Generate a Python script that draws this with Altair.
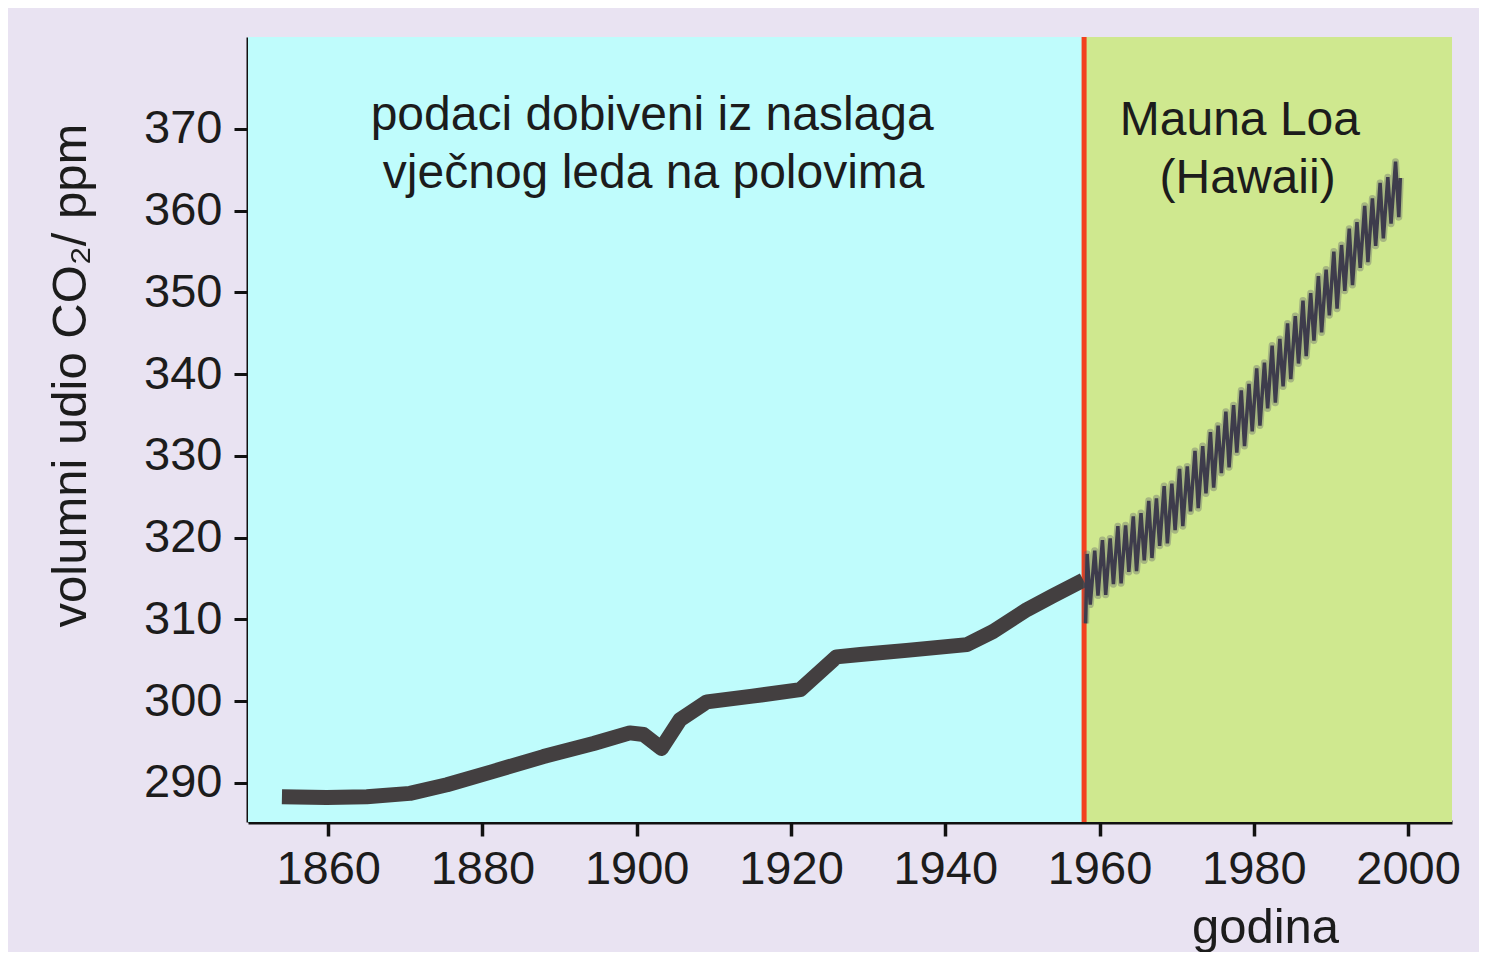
import altair as alt
import pandas as pd

# ---------------- data ----------------
# ice-core record (thick line)
ICE_YEARS = [1854.0, 1859.8, 1865.0, 1870.6, 1875.4, 1881.4, 1887.9, 1894.4, 1899.1,
             1900.9, 1903.2, 1905.6, 1909.1, 1915.0, 1921.2, 1925.9, 1929.0, 1935.0,
             1942.8, 1946.2, 1950.6, 1954.0, 1957.9]
ICE_PPM = [288.3, 288.2, 288.3, 288.7, 289.75, 291.4, 293.2, 294.8, 296.1,
           295.9, 294.2, 297.7, 299.9, 300.6, 301.4, 305.4, 305.7, 306.2,
           306.9, 308.5, 311.2, 312.9, 314.8]

# Mauna Loa record (seasonal saw-tooth)
ML_YEARS = [1958.20, 1958.40, 1958.80,
            1959.38, 1959.80, 1960.38, 1960.80, 1961.38, 1961.80, 1962.38, 1962.80,
            1963.38, 1963.80, 1964.38, 1964.80, 1965.38, 1965.80, 1966.38, 1966.80,
            1967.38, 1967.80, 1968.38, 1968.80, 1969.38, 1969.80, 1970.38, 1970.80,
            1971.38, 1971.80, 1972.38, 1972.80, 1973.38, 1973.80, 1974.38, 1974.80,
            1975.38, 1975.80, 1976.38, 1976.80, 1977.38, 1977.80, 1978.38, 1978.80,
            1979.38, 1979.80, 1980.38, 1980.80, 1981.38, 1981.80, 1982.38, 1982.80,
            1983.38, 1983.80, 1984.38, 1984.80, 1985.38, 1985.80, 1986.38, 1986.80,
            1987.38, 1987.80, 1988.38, 1988.80, 1989.38, 1989.80, 1990.38, 1990.80,
            1991.38, 1991.80, 1992.38, 1992.80, 1993.38, 1993.80, 1994.38, 1994.80,
            1995.38, 1995.80, 1996.38, 1996.80, 1997.38, 1997.80, 1998.38, 1998.80,
            1999.00]
ML_PPM = [309.5, 318.0, 311.8,
          318.4, 312.9, 319.7, 313.0, 319.9, 314.3, 321.4, 314.4,
          321.5, 315.8, 322.6, 315.9, 323.0, 317.2, 324.5, 317.5,
          324.8, 319.0, 326.3, 319.3, 326.6, 320.9, 328.4, 321.4,
          328.7, 323.2, 330.6, 323.6, 331.2, 325.4, 332.9, 326.1,
          333.7, 327.9, 335.4, 328.6, 336.2, 330.4, 338.0, 331.2,
          338.8, 333.0, 340.7, 333.7, 341.4, 335.8, 343.5, 336.5,
          344.3, 338.5, 346.2, 339.4, 347.1, 341.3, 349.0, 342.2,
          349.9, 344.1, 352.0, 345.1, 352.8, 347.2, 355.0, 348.0,
          355.8, 350.2, 357.8, 350.9, 358.6, 353.0, 360.6, 353.7,
          361.5, 355.7, 363.4, 356.6, 364.1, 358.4, 366.0, 359.2,
          364.0]

SPLIT_YEAR = 1958.0
X_DOMAIN = [1849.6, 2005.7]
Y_DOMAIN = [285.2, 381.25]
X_TICKS = [1860, 1880, 1900, 1920, 1940, 1960, 1980, 2000]
Y_TICKS = [290, 300, 310, 320, 330, 340, 350, 360, 370]

REGION_NAMES = ["ice", "mauna"]
REGION_START = [X_DOMAIN[0], SPLIT_YEAR]
REGION_END = [SPLIT_YEAR, X_DOMAIN[1]]
REGION_COLORS = ["#bffcfc", "#cfe88f"]

NOTE_TEXT = ["podaci dobiveni iz naslaga", "vječnog leda na polovima",
             "Mauna Loa", "(Hawaii)"]
NOTE_YEAR = [1902.0, 1902.2, 1978.2, 1979.2]
NOTE_PPM = [369.9, 362.8, 369.3, 362.2]

FONT = "Liberation Sans"

# ---------------- chart ----------------
xs = alt.Scale(domain=X_DOMAIN, nice=False, zero=False)
ys = alt.Scale(domain=Y_DOMAIN, nice=False, zero=False)

regions = pd.DataFrame({"name": REGION_NAMES, "start": REGION_START, "end": REGION_END})
ice = pd.DataFrame({"year": ICE_YEARS, "ppm": ICE_PPM})
ml = pd.DataFrame({"year": ML_YEARS, "ppm": ML_PPM})
split = pd.DataFrame({"year": [SPLIT_YEAR]})
notes = pd.DataFrame({"text": NOTE_TEXT, "year": NOTE_YEAR, "ppm": NOTE_PPM})

x_axis = alt.Axis(values=X_TICKS, format="d", title="godina", labelPadding=10,
                  titleX=1017, titleY=120, titleAlign="center",
                  titleBaseline="alphabetic", labelFlush=False,
                  domainWidth=4, tickWidth=3.5, tickSize=14,
                  domainColor="#111111", tickColor="#111111")
y_axis = alt.Axis(values=Y_TICKS, format="d", title="volumni udio CO₂/ ppm",
                  labelPadding=12, titleX=-163, titleY=375 - 37, titleAngle=270,
                  titleAlign="center", titleBaseline="alphabetic",
                  domainWidth=4, tickWidth=3, tickSize=14,
                  domainColor="#111111", tickColor="#111111")

bg = alt.Chart(regions).mark_rect().encode(
    x=alt.X("start:Q", scale=xs, axis=x_axis),
    x2="end:Q",
    color=alt.Color("name:N", scale=alt.Scale(domain=REGION_NAMES, range=REGION_COLORS),
                    legend=None),
)

rule = alt.Chart(split).mark_rule(color="#f2401e", strokeWidth=5).encode(
    x=alt.X("year:Q", scale=xs)
)

ice_line = alt.Chart(ice).mark_line(color="#433f40", strokeWidth=15,
                                    strokeJoin="round", strokeCap="butt").encode(
    x=alt.X("year:Q", scale=xs),
    y=alt.Y("ppm:Q", scale=ys, axis=y_axis),
)

ml_halo = alt.Chart(ml).mark_line(color="#5a5868", strokeWidth=7, opacity=0.35,
                                  strokeJoin="round").encode(
    x=alt.X("year:Q", scale=xs),
    y=alt.Y("ppm:Q", scale=ys),
)

ml_line = alt.Chart(ml).mark_line(color="#3e3c4c", strokeWidth=3.5,
                                  strokeJoin="miter").encode(
    x=alt.X("year:Q", scale=xs),
    y=alt.Y("ppm:Q", scale=ys),
)

note_marks = alt.Chart(notes).mark_text(font=FONT, fontSize=48, color="#1c1c1c",
                                        align="center", baseline="alphabetic").encode(
    x=alt.X("year:Q", scale=xs),
    y=alt.Y("ppm:Q", scale=ys),
    text="text:N",
)

chart = alt.layer(bg, rule, ice_line, ml_halo, ml_line, note_marks).properties(
    width=1204, height=785,
    autosize=alt.AutoSizeParams(type="none"),
    padding={"left": 240, "top": 29, "right": 27, "bottom": 130},
    background="#e9e3f2",
).configure_view(strokeWidth=0).configure_axis(
    grid=False,
    labelFont=FONT, labelFontSize=47, labelColor="#1c1c1c",
    titleFont=FONT, titleFontSize=49, titleFontWeight="normal", titleColor="#1c1c1c",
)

chart.save("out.html", embed_options={"renderer": "svg", "actions": False})
